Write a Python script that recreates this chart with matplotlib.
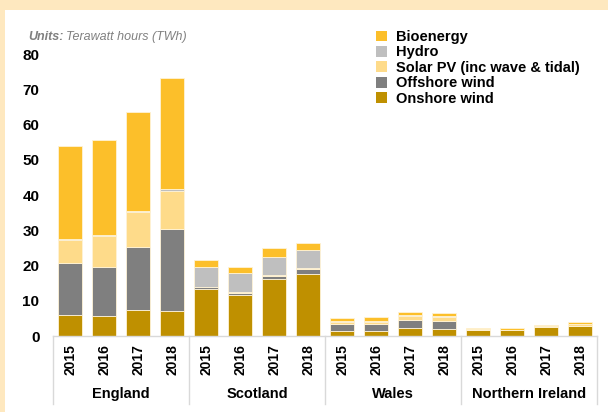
import matplotlib.pyplot as plt
from matplotlib.patches import Rectangle, Patch
import numpy as np

plt.rcParams['font.family'] = ['Liberation Sans', 'DejaVu Sans']

countries = ['England', 'Scotland', 'Wales', 'Northern Ireland']
years = ['2015', '2016', '2017', '2018']

# TWh, order: England x4, Scotland x4, Wales x4, Northern Ireland x4
onshore = [5.9, 5.6, 7.5, 7.2, 13.3, 11.7, 16.3, 17.7, 1.5, 1.3, 2.3, 2.1, 1.8, 1.7, 2.5, 2.9]
offshore = [14.9, 13.9, 17.8, 23.1, 0.5, 0.6, 0.7, 1.2, 1.9, 2.0, 2.3, 2.2, 0.0, 0.0, 0.0, 0.0]
solar = [6.4, 8.9, 9.8, 11.0, 0.2, 0.2, 0.3, 0.3, 0.6, 0.8, 1.0, 1.0, 0.05, 0.05, 0.2, 0.4]
hydro = [0.4, 0.4, 0.4, 0.4, 5.7, 5.3, 5.2, 5.2, 0.3, 0.3, 0.3, 0.3, 0.0, 0.0, 0.0, 0.0]
bioenergy = [26.4, 26.9, 28.0, 31.5, 1.9, 1.8, 2.6, 2.1, 0.7, 0.9, 1.0, 0.95, 0.4, 0.5, 0.5, 0.6]

series = [
    ('Onshore wind', onshore, '#BF9000'),
    ('Offshore wind', offshore, '#7F7F7F'),
    ('Solar PV (inc wave & tidal)', solar, '#FEDB8A'),
    ('Hydro', hydro, '#BFBFBF'),
    ('Bioenergy', bioenergy, '#FCBF2A'),
]

fig = plt.figure(figsize=(6.08, 4.12), dpi=100, facecolor='#FEE8BF')
fig.patches.append(Rectangle((5 / 608, 0), 1, 1 - 10 / 412, transform=fig.transFigure,
                             facecolor='white', edgecolor='none', zorder=-5))

ax = fig.add_axes([53.3 / 608, 1 - 336 / 412, 544 / 608, (336 - 54.4) / 412])
ax.set_facecolor('none')

x = np.arange(len(onshore))
bottom = np.zeros(len(x))
for name, vals, col in series:
    ax.bar(x, vals, 0.706, bottom=bottom, color=col, edgecolor='#FFF3D6', linewidth=0.6, label=name)
    bottom += np.array(vals)

ax.set_xlim(-0.5, len(x) - 0.5)
ax.set_ylim(0, 80)
ax.set_yticks(range(0, 81, 10))
ax.tick_params(axis='y', length=0, pad=10, labelsize=11)
for t in ax.get_yticklabels():
    t.set_fontweight('bold')

ax.set_xticks(x)
ax.set_xticklabels(years * len(countries), rotation=90, fontweight='bold', fontsize=10)
ax.tick_params(axis='x', length=0, pad=6)

for s in ['left', 'right', 'top']:
    ax.spines[s].set_visible(False)
ax.spines['bottom'].set_color('#D9D9D9')
ax.spines['bottom'].set_linewidth(1)

# group separators and labels
for i in range(len(countries) + 1):
    ax.plot([i * 4 - 0.5, i * 4 - 0.5], [0, -0.24], transform=ax.get_xaxis_transform(),
            color='#D9D9D9', lw=1, clip_on=False)
for i, c in enumerate(countries):
    ax.text(i * 4 + 1.5, -0.205, c, transform=ax.get_xaxis_transform(),
            ha='center', va='center', fontsize=10.5, fontweight='bold')

fig.text(28 / 608, 1 - 37 / 412, 'Units:', color='#808080', fontsize=9,
         fontweight='bold', fontstyle='italic', va='center')
fig.text(66 / 608, 1 - 37 / 412, 'Terawatt hours (TWh)', color='#808080', fontsize=9,
         fontstyle='italic', va='center')

handles = [Patch(facecolor=col, edgecolor='none') for _, _, col in series][::-1]
labels = [name for name, _, _ in series][::-1]
leg = fig.legend(handles, labels, loc='upper left', bbox_to_anchor=(376 / 608, 1 - 30 / 412),
                 frameon=False, fontsize=10.5, handlelength=0.75, handleheight=0.75,
                 handletextpad=0.6, labelspacing=0.1, borderpad=0, borderaxespad=0)
for t in leg.get_texts():
    t.set_fontweight('bold')

fig.savefig('out.png', dpi=100, facecolor=fig.get_facecolor())
